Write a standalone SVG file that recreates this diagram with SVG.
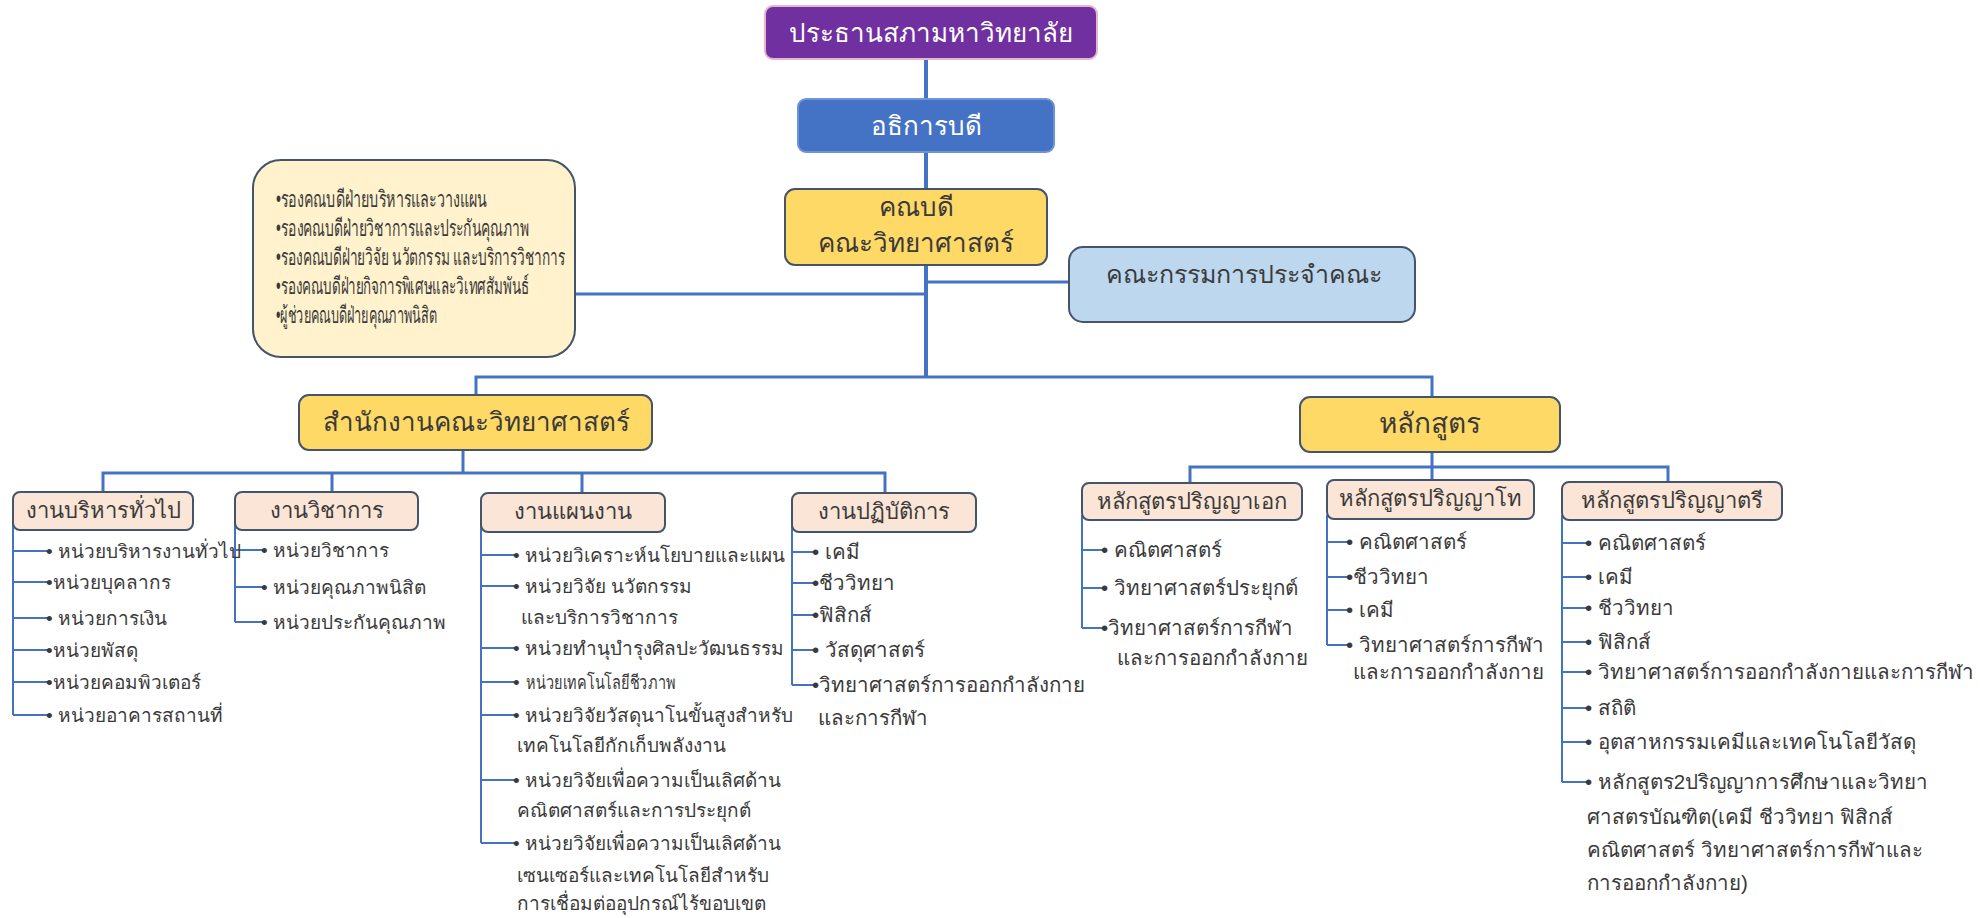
<svg xmlns="http://www.w3.org/2000/svg" width="1980" height="918" viewBox="0 0 1980 918">
<style>
text{font-family:"Liberation Sans","Noto Sans",sans-serif;fill:#3a3a3a}
.t{text-anchor:middle}
.w{fill:#ffffff}
.h1{font-size:26px}
.h2{font-size:22px}
.it{font-size:19px}
.i2{font-size:20.5px}
.dp{font-size:23px}
.sp{stroke:#4472C4;stroke-width:4;fill:none}
.bus{stroke:#4472C4;stroke-width:3;fill:none}
.ln{stroke:#4472C4;stroke-width:2;fill:none}
.pk{fill:#FBE5D6;stroke:#44546A;stroke-width:2}
.yl{fill:#FFD966;stroke:#44546A;stroke-width:2}
</style>
<rect width="1980" height="918" fill="#ffffff"/>
<g id="connectors">
<path class="sp" d="M926 59V99M926 152V377"/>
<path class="bus" d="M575 294H926M926 282H1069M476 395V377H1432V397"/>
<path class="bus" d="M463 450V473M103 493V473H885V493M332 473V493M582 473V493"/>
<path class="bus" d="M1432 452V467M1190 483V467H1668V482M1432 467V480"/>
<path class="ln" d="M13 520V715M13 551H48M13 582H48M13 618H48M13 650H48M13 682H48M13 715H48"/>
<path class="ln" d="M235 520V622M235 550H263M235 587H263M235 622H263"/>
<path class="ln" d="M481 525V843M481 555H515M481 586H515M481 648H515M481 682H515M481 715H515M481 780H515M481 843H515"/>
<path class="ln" d="M792 525V685M792 552H814M792 583H814M792 615H814M792 650H814M792 685H814"/>
<path class="ln" d="M1082 515V628M1082 550H1103M1082 588H1103M1082 628H1103"/>
<path class="ln" d="M1327 515V645M1327 542H1348M1327 577H1348M1327 610H1348M1327 645H1348"/>
<path class="ln" d="M1562 515V782M1562 543H1587M1562 577H1587M1562 608H1587M1562 642H1587M1562 672H1587M1562 708H1587M1562 742H1587M1562 782H1587"/>
</g>
<g id="president">
<rect x="765" y="6" width="332" height="53" rx="8" fill="#7030A0" stroke="#E8B4CF" stroke-width="2"/>
<text class="t w h1" x="931" y="42">ประธานสภามหาวิทยาลัย</text>
</g>
<g id="rector">
<rect x="798" y="99" width="256" height="53" rx="8" fill="#4472C4" stroke="#6E94D6" stroke-width="2"/>
<text class="t w h1" x="926" y="135">อธิการบดี</text>
</g>
<g id="deputies">
<rect x="253" y="160" width="322" height="197" rx="28" fill="#FFF2CC" stroke="#44546A" stroke-width="2"/>
<text class="dp" x="276" y="207" textLength="211" lengthAdjust="spacingAndGlyphs">•รองคณบดีฝ่ายบริหารและวางแผน</text>
<text class="dp" x="276" y="236" textLength="253" lengthAdjust="spacingAndGlyphs">•รองคณบดีฝ่ายวิชาการและประกันคุณภาพ</text>
<text class="dp" x="276" y="265" textLength="289" lengthAdjust="spacingAndGlyphs">•รองคณบดีฝ่ายวิจัย นวัตกรรม และบริการวิชาการ</text>
<text class="dp" x="276" y="294" textLength="253" lengthAdjust="spacingAndGlyphs">•รองคณบดีฝ่ายกิจการพิเศษและวิเทศสัมพันธ์</text>
<text class="dp" x="276" y="323" textLength="161" lengthAdjust="spacingAndGlyphs">•ผู้ช่วยคณบดีฝ่ายคุณภาพนิสิต</text>
</g>
<g id="dean">
<rect x="785" y="189" width="262" height="76" rx="10" class="yl"/>
<text class="t h1" x="916" y="216">คณบดี</text>
<text class="t h1" x="916" y="252">คณะวิทยาศาสตร์</text>
</g>
<g id="committee">
<rect x="1069" y="247" width="346" height="75" rx="14" fill="#BDD7EE" stroke="#44546A" stroke-width="2"/>
<text class="t" style="font-size:25px" x="1244" y="283">คณะกรรมการประจำคณะ</text>
</g>
<g id="office">
<rect x="299" y="395" width="353" height="55" rx="10" class="yl"/>
<text class="t" style="font-size:26px" x="476" y="431">สำนักงานคณะวิทยาศาสตร์</text>
</g>
<g id="curriculum">
<rect x="1300" y="397" width="260" height="55" rx="10" class="yl"/>
<text class="t" style="font-size:28px" x="1430" y="433">หลักสูตร</text>
</g>
<g id="general">
<rect x="13" y="492" width="180" height="38" rx="7" class="pk"/>
<text class="t h2" x="103" y="518">งานบริหารทั่วไป</text>
<text class="it" x="46" y="558">• หน่วยบริหารงานทั่วไป</text>
<text class="it" x="46" y="589">•หน่วยบุคลากร</text>
<text class="it" x="46" y="625">• หน่วยการเงิน</text>
<text class="it" x="46" y="657">•หน่วยพัสดุ</text>
<text class="it" x="46" y="689">•หน่วยคอมพิวเตอร์</text>
<text class="it" x="46" y="722">• หน่วยอาคารสถานที่</text>
</g>
<g id="academic">
<rect x="235" y="492" width="183" height="38" rx="7" class="pk"/>
<text class="t h2" x="327" y="518">งานวิชาการ</text>
<text class="it" x="261" y="557">• หน่วยวิชาการ</text>
<text class="it" x="261" y="594">• หน่วยคุณภาพนิสิต</text>
<text class="it" x="261" y="629">• หน่วยประกันคุณภาพ</text>
</g>
<g id="planning">
<rect x="481" y="493" width="184" height="39" rx="7" class="pk"/>
<text class="t h2" x="573" y="519">งานแผนงาน</text>
<text class="it" x="513" y="562">• หน่วยวิเคราะห์นโยบายและแผน</text>
<text class="it" x="513" y="593">• หน่วยวิจัย นวัตกรรม</text>
<text class="it" x="521" y="624">และบริการวิชาการ</text>
<text class="it" x="513" y="655">• หน่วยทำนุบำรุงศิลปะวัฒนธรรม</text>
<text class="it" x="513" y="689">•</text>
<text class="it" x="526" y="689" textLength="150" lengthAdjust="spacingAndGlyphs">หน่วยเทคโนโลยีชีวภาพ</text>
<text class="it" x="513" y="722">• หน่วยวิจัยวัสดุนาโนขั้นสูงสำหรับ</text>
<text class="it" x="517" y="752">เทคโนโลยีกักเก็บพลังงาน</text>
<text class="it" x="513" y="787">• หน่วยวิจัยเพื่อความเป็นเลิศด้าน</text>
<text class="it" x="517" y="817">คณิตศาสตร์และการประยุกต์</text>
<text class="it" x="513" y="850">• หน่วยวิจัยเพื่อความเป็นเลิศด้าน</text>
<text class="it" x="517" y="882">เซนเซอร์และเทคโนโลยีสำหรับ</text>
<text class="it" x="517" y="910">การเชื่อมต่ออุปกรณ์ไร้ขอบเขต</text>
</g>
<g id="lab">
<rect x="792" y="493" width="184" height="39" rx="7" class="pk"/>
<text class="t h2" x="884" y="519">งานปฏิบัติการ</text>
<text class="i2" x="812" y="559">• เคมี</text>
<text class="i2" x="812" y="590">•ชีววิทยา</text>
<text class="i2" x="812" y="622">•ฟิสิกส์</text>
<text class="i2" x="812" y="657">• วัสดุศาสตร์</text>
<text class="i2" x="812" y="692">•วิทยาศาสตร์การออกกำลังกาย</text>
<text class="i2" x="818" y="725">และการกีฬา</text>
</g>
<g id="phd">
<rect x="1082" y="483" width="220" height="37" rx="7" class="pk"/>
<text class="t h2" x="1192" y="509">หลักสูตรปริญญาเอก</text>
<text class="i2" x="1101" y="557">• คณิตศาสตร์</text>
<text class="i2" x="1101" y="595">• วิทยาศาสตร์ประยุกต์</text>
<text class="i2" x="1101" y="635">•วิทยาศาสตร์การกีฬา</text>
<text class="i2" x="1117" y="665">และการออกกำลังกาย</text>
</g>
<g id="master">
<rect x="1327" y="480" width="207" height="39" rx="7" class="pk"/>
<text class="t h2" x="1430" y="506">หลักสูตรปริญญาโท</text>
<text class="i2" x="1346" y="549">• คณิตศาสตร์</text>
<text class="i2" x="1346" y="584">•ชีววิทยา</text>
<text class="i2" x="1346" y="617">•  เคมี</text>
<text class="i2" x="1346" y="652">•  วิทยาศาสตร์การกีฬา</text>
<text class="i2" x="1353" y="679">และการออกกำลังกาย</text>
</g>
<g id="bachelor">
<rect x="1562" y="482" width="220" height="38" rx="7" class="pk"/>
<text class="t h2" x="1672" y="508">หลักสูตรปริญญาตรี</text>
<text class="i2" x="1585" y="550">• คณิตศาสตร์</text>
<text class="i2" x="1585" y="584">• เคมี</text>
<text class="i2" x="1585" y="615">• ชีววิทยา</text>
<text class="i2" x="1585" y="649">• ฟิสิกส์</text>
<text class="i2" x="1585" y="679">• วิทยาศาสตร์การออกกำลังกายและการกีฬา</text>
<text class="i2" x="1585" y="715">• สถิติ</text>
<text class="i2" x="1585" y="749">• อุตสาหกรรมเคมีและเทคโนโลยีวัสดุ</text>
<text class="i2" x="1585" y="789">•  หลักสูตร2ปริญญาการศึกษาและวิทยา</text>
<text class="i2" x="1587" y="824">ศาสตรบัณฑิต(เคมี ชีววิทยา ฟิสิกส์</text>
<text class="i2" x="1587" y="857">คณิตศาสตร์  วิทยาศาสตร์การกีฬาและ</text>
<text class="i2" x="1587" y="890">การออกกำลังกาย)</text>
</g>
</svg>
